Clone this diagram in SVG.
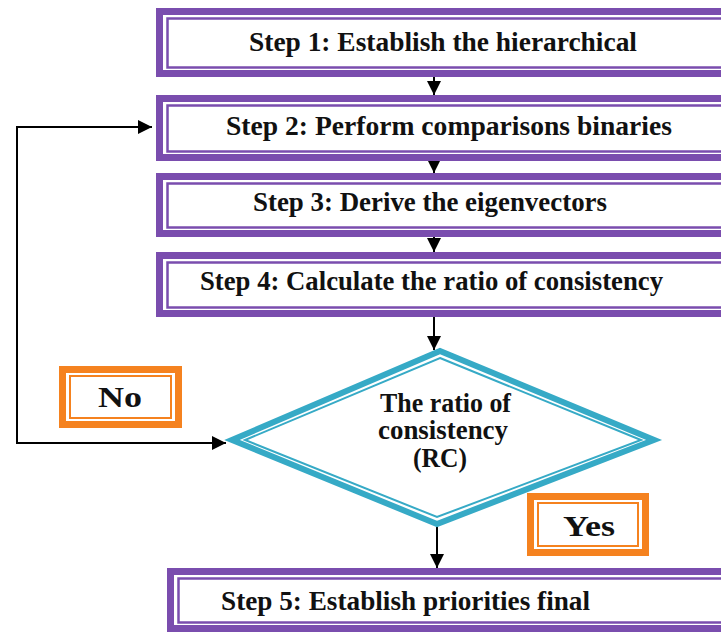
<svg xmlns="http://www.w3.org/2000/svg" width="721" height="632" viewBox="0 0 721 632">
<defs>
<marker id="ah2" viewBox="0 0 10 10" refX="10" refY="5" markerWidth="14" markerHeight="14" markerUnits="userSpaceOnUse" orient="auto-start-reverse">
<path d="M0,0 L10,5 L0,10 z" fill="#000"/>
</marker>
</defs>
<style>
.outer{fill:#fff;stroke:#7a4dae;stroke-width:7}
.inner{fill:none;stroke:#7a4dae;stroke-width:2.5}
.dout{fill:#fff;stroke:#36aac6;stroke-width:6;stroke-linejoin:miter}
.din{fill:none;stroke:#36aac6;stroke-width:2}
.oout{fill:#fff;stroke:#f5821f;stroke-width:7}
.oin{fill:none;stroke:#f5821f;stroke-width:2}
.t{font-family:"Liberation Serif","Times New Roman",serif;font-weight:bold;font-size:27px;fill:#111}
.big{font-size:29px}
.c{fill:none;stroke:#000;stroke-width:2}
</style>
<rect width="721" height="632" fill="#fff"/>
<g id="connectors">
<line class="c" x1="434" y1="77" x2="434" y2="95" marker-end="url(#ah2)"/>
<line class="c" x1="434" y1="161" x2="434" y2="173" marker-end="url(#ah2)"/>
<line class="c" x1="434" y1="237" x2="434" y2="252" marker-end="url(#ah2)"/>
<line class="c" x1="434" y1="317" x2="434" y2="350" marker-end="url(#ah2)"/>
<line class="c" x1="437" y1="527" x2="437" y2="568" marker-end="url(#ah2)"/>
<polyline class="c" points="226,443 17,443 17,127 152,127" marker-start="url(#ah2)" marker-end="url(#ah2)"/>
</g>
<g id="step1">
<rect class="outer" x="159.5" y="11.5" width="580" height="62"/>
<rect class="inner" x="167.5" y="18.5" width="570" height="49"/>
<text class="t" x="249" y="51" textLength="388" lengthAdjust="spacingAndGlyphs">Step 1: Establish the hierarchical</text>
</g>
<g id="step2">
<rect class="outer" x="159.5" y="98.5" width="580" height="59"/>
<rect class="inner" x="167.5" y="105.5" width="570" height="46"/>
<text class="t" x="226" y="135" textLength="446" lengthAdjust="spacingAndGlyphs">Step 2: Perform comparisons binaries</text>
</g>
<g id="step3">
<rect class="outer" x="159.5" y="176.5" width="580" height="57"/>
<rect class="inner" x="167.5" y="183.5" width="570" height="44"/>
<text class="t" x="253" y="211" textLength="354" lengthAdjust="spacingAndGlyphs">Step 3: Derive the eigenvectors</text>
</g>
<g id="step4">
<rect class="outer" x="159.5" y="255.5" width="580" height="58"/>
<rect class="inner" x="167.5" y="262.5" width="570" height="45"/>
<text class="t" x="200" y="290" textLength="463" lengthAdjust="spacingAndGlyphs">Step 4: Calculate the ratio of consistency</text>
</g>
<g id="decision">
<polygon class="dout" points="440,351 654,440 437,524 232,440"/>
<polygon class="din" points="440,358 641,440 437,517 245,440"/>
<text class="t" x="380" y="412" textLength="131" lengthAdjust="spacingAndGlyphs">The ratio of</text>
<text class="t" x="378" y="439" textLength="130" lengthAdjust="spacingAndGlyphs">consistency</text>
<text class="t" x="413" y="467" textLength="54" lengthAdjust="spacingAndGlyphs">(RC)</text>
</g>
<g id="no">
<rect class="oout" x="62.5" y="369.5" width="116" height="55"/>
<rect class="oin" x="70" y="376" width="101" height="42"/>
<text class="t big" x="98" y="407" textLength="44" lengthAdjust="spacingAndGlyphs">No</text>
</g>
<g id="yes">
<rect class="oout" x="530.5" y="496.5" width="115" height="56"/>
<rect class="oin" x="538" y="503" width="100" height="43"/>
<text class="t big" x="563" y="536" textLength="52" lengthAdjust="spacingAndGlyphs">Yes</text>
</g>
<g id="step5">
<rect class="outer" x="170.5" y="571.5" width="570" height="57"/>
<rect class="inner" x="178.5" y="578.5" width="560" height="44"/>
<text class="t" x="221" y="610" textLength="369" lengthAdjust="spacingAndGlyphs">Step 5: Establish priorities final</text>
</g>
</svg>
